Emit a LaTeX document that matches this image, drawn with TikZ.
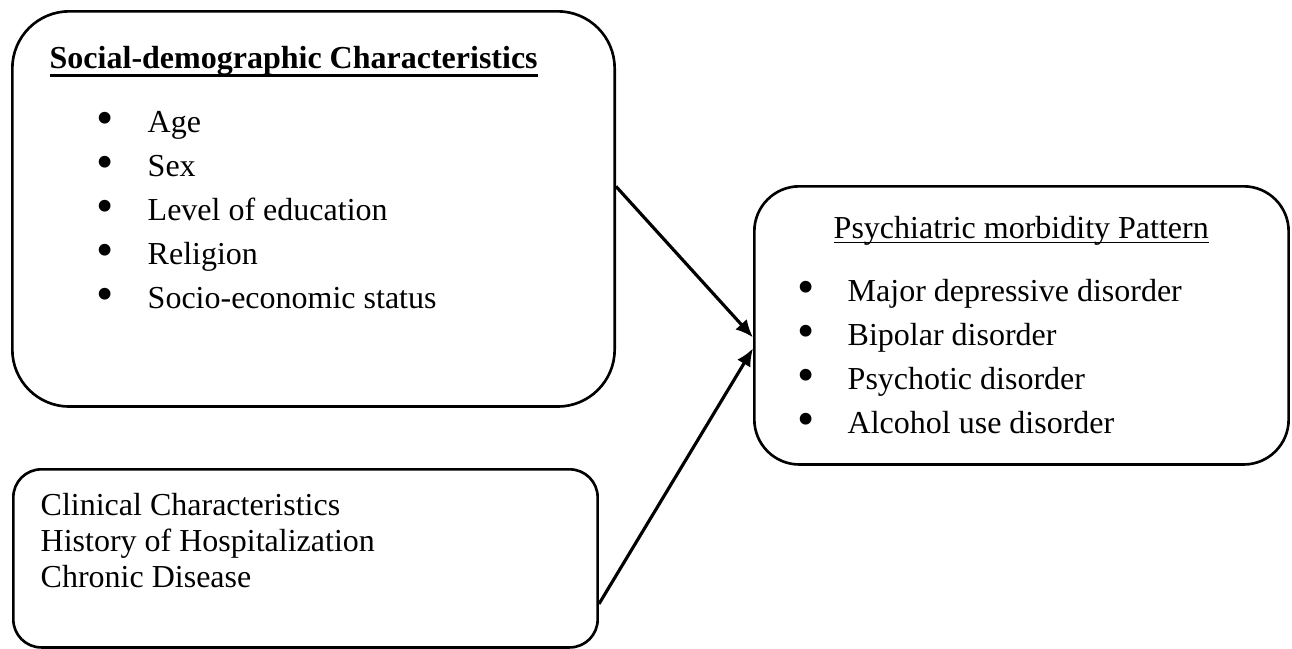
\documentclass[tikz,border=0pt]{standalone}
\usepackage{fontspec}
\setmainfont{Liberation Serif}
\usetikzlibrary{positioning,arrows.meta}
\newcommand\undl[3]{\setbox0=\hbox{#3}\rlap{\vrule width\wd0 height -#1 depth \dimexpr#1+#2\relax}\box0}

\begin{document}
\begin{tikzpicture}[x=0.01cm, y=-0.01cm,
	box/.style={draw, line width=0.75pt, rounded corners=#1, inner sep=0, anchor=north west},
	item/.style={anchor=base west, inner sep=0, font=\fontsize{9.1}{11}\selectfont},
	dot/.style={anchor=center, inner sep=0, font=\fontsize{14}{14}\selectfont},
	arrow/.style={line width=0.9pt, -{Latex[length=5pt,width=4.4pt]}}]
	\useasboundingbox (0,0) rectangle (1292,648);
	% Caixas
	\node [box=0.57cm, minimum width=6.02cm, minimum height=3.95cm] (social) at (11,10) {};
	\node [box=0.28cm, minimum width=5.84cm, minimum height=1.78cm] (clinical) at (12,468) {};
	\node [box=0.45cm, minimum width=5.34cm, minimum height=2.78cm] (pattern) at (753,185) {};
	% Textos
	\node [item] (stitle) at (49,68) {\bfseries\undl{1.6pt}{0.85pt}{Social-demographic Characteristics}};
	\foreach \t [count=\i] in {Age, Sex, Level of education, Religion, Socio-economic status}
	{
		\node [dot] (sdot\i) at (105,{123+44*(\i-1)}) {\textbullet};
		\node [item] (sitem\i) at (147,{132+44*(\i-1)}) {\t};
	}
	\node [item] (ptitle) at (833,238) {\undl{1.1pt}{0.45pt}{Psychiatric morbidity Pattern}};
	\foreach \t [count=\i] in {Major depressive disorder, Bipolar disorder, Psychotic disorder, Alcohol use disorder}
	{
		\node [dot] (pdot\i) at (806,{292+44.3*(\i-1)}) {\textbullet};
		\node [item] (pitem\i) at (847,{301+44.3*(\i-1)}) {\t};
	}
	\node [item] (cline1) at (40,515) {Clinical Characteristics};
	\node [item] (cline2) at (40,551) {History of Hospitalization};
	\node [item] (cline3) at (40,587) {Chronic Disease};
	% Setas
	\draw [arrow] ([yshift=0.225cm]social.east) -- ([yshift=-0.12cm]pattern.west);
	\draw [arrow] ([yshift=-0.455cm]clinical.east) -- ([yshift=-0.23cm]pattern.west);
\end{tikzpicture}
\end{document}
